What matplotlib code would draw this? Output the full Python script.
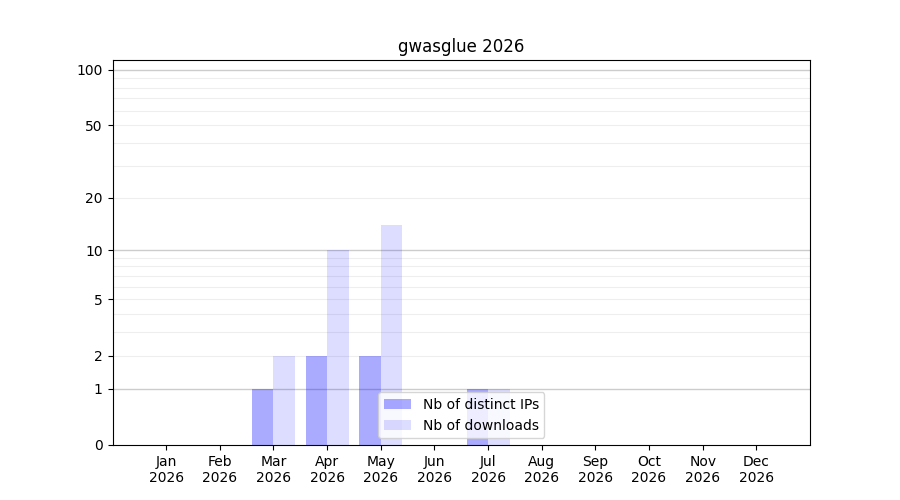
import numpy as np
import matplotlib
matplotlib.use("Agg")
import matplotlib.pyplot as plt
from matplotlib.ticker import FixedLocator, FixedFormatter

months = ["Jan", "Feb", "Mar", "Apr", "May", "Jun", "Jul", "Aug", "Sep", "Oct", "Nov", "Dec"]
year = "2026"
distinct_ips = [0, 0, 1, 2, 2, 0, 1, 0, 0, 0, 0, 0]
downloads = [0, 0, 2, 10, 14, 0, 1, 0, 0, 0, 0, 0]
ytick_vals = [0, 1, 2, 5, 10, 20, 50, 100]

fig, ax = plt.subplots(figsize=(9, 5), dpi=100)
ax.set_yscale("function", functions=(lambda v: np.log10(np.maximum(v, -0.999) + 1),
                                      lambda v: 10 ** v - 1))
x = np.arange(len(months))
w = 0.4
ax.bar(x - w / 2, distinct_ips, width=w, color="blue", alpha=1 / 3,
       linewidth=0, label="Nb of distinct IPs", zorder=2)
ax.bar(x + w / 2, downloads, width=w, color="blue", alpha=0.135,
       linewidth=0, label="Nb of downloads", zorder=2)

ax.set_ylim(0, 113)
ax.set_xlim(-1, 12)
ax.set_xticks(x)
ax.set_xticklabels([f"{m}\n{year}" for m in months])
ax.yaxis.set_major_locator(FixedLocator(ytick_vals))
ax.yaxis.set_major_formatter(FixedFormatter([str(v) for v in ytick_vals]))

major_grid = [1, 10, 100]
minor_grid = [v * d for d in (1, 10) for v in range(2, 10)]
for g in major_grid:
    ax.axhline(g, color="#cccccc", linewidth=1.0, zorder=1)
for g in minor_grid:
    ax.axhline(g, color="#eeeeee", linewidth=0.8, zorder=1)

ax.set_title("gwasglue 2026")
ax.legend(loc="lower center")
fig.savefig("out.png", dpi=100)
